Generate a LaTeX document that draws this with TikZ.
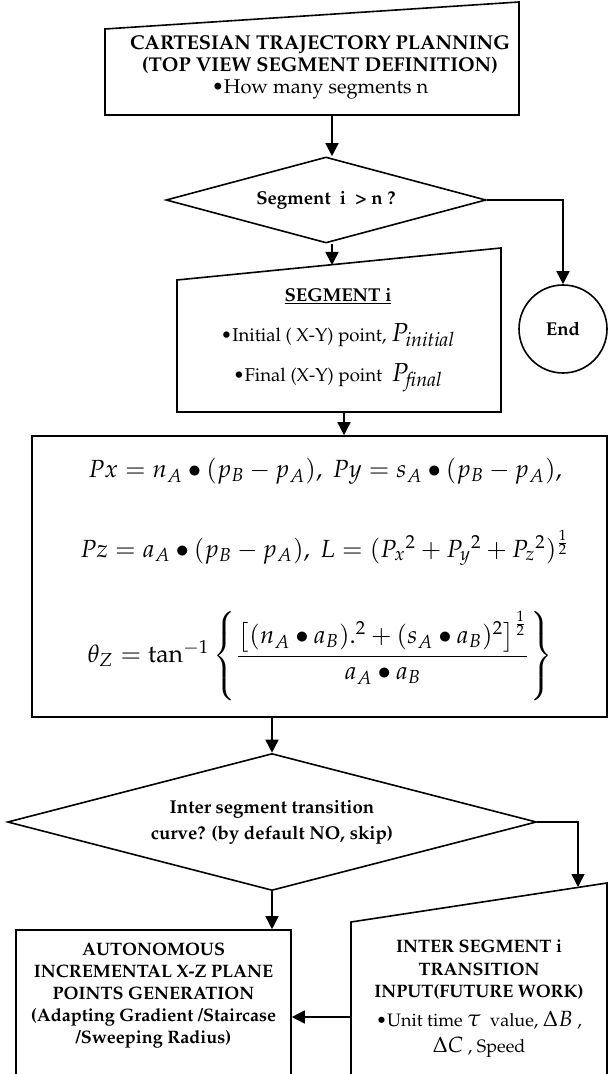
\documentclass[tikz,border=0pt]{standalone}
\usepackage{amsmath,amssymb}
\usepackage[T1]{fontenc}
\usepackage{mathpazo}
\usepackage{tikz}
\usetikzlibrary{positioning,arrows.meta,shapes.geometric}

\begin{document}
\begin{tikzpicture}[x=0.5pt,y=-0.5pt,>={Triangle[length=6.5pt,width=6.5pt]},line width=0.8pt,
  txt/.style={font=\fontsize{9.3}{11}\selectfont,align=center,inner sep=0pt},
  eqn/.style={font=\fontsize{12.4}{15}\selectfont,inner sep=0pt},
  decide/.style={draw,diamond,aspect=4,inner sep=0pt,align=center,font=\fontsize{9.3}{13}\selectfont\bfseries},
  frame/.style={draw,rectangle,inner sep=0pt},
  flow/.style={->,line width=0.8pt}]
\useasboundingbox (0,0) rectangle (608,1074);

% planning input
\draw (105,29) -- (519,2) -- (519,115) -- (105,115) -- cycle;
\node[txt,font=\fontsize{10}{11}\selectfont] (plan) at (320,67) {\textbf{CARTESIAN TRAJECTORY PLANNING}\\ \textbf{(TOP VIEW SEGMENT DEFINITION)}\\ \textbullet How many segments n};
\coordinate (plan-bot) at (332,115);

\node[decide,minimum width=160pt,minimum height=43pt] (seg-test) at (326,200) {Segment\ \ i\ \ \textgreater\ n ?};
\node[draw,circle,minimum size=44pt,inner sep=0pt,font=\fontsize{9.3}{11}\selectfont\bfseries] (end) at (563,329) {End};

% segment input
\draw (177,280) -- (501,248) -- (501,412) -- (177,412) -- cycle;
\coordinate (seg-top) at (332,265);
\coordinate (seg-bot) at (344,412);
\node[txt,font=\fontsize{9.3}{20}\selectfont] (seg) at (338,340) {\textbf{\underline{SEGMENT i}}\\
  \textbullet Initial ( X-Y) point, {\fontsize{13}{13}\selectfont$P_{\mathit{initial}}$}\\
  \textbullet Final (X-Y) point\ \ {\fontsize{13}{13}\selectfont$P_{\mathit{final}}$}};

% computation
\node[frame,minimum width=287.5pt,minimum height=140.5pt] (calc) at (319.5,576.5) {};
\node[eqn] (eq-p) at (325,471) {$Px = n_A \bullet (p_B - p_A),\ Py = s_A \bullet (p_B - p_A),$};
\node[eqn] (eq-l) at (325,548) {$Pz = a_A \bullet (p_B - p_A),\ L = (P_x{}^2 + P_y{}^2 + P_z{}^2)^{\frac{1}{2}}$};
\node[eqn] (eq-t) at (320,656) {$\theta_Z = \tan^{-1}\left\{\dfrac{\bigl[(n_A \bullet a_B).^2 + (s_A \bullet a_B)^2\bigr]^{\frac{1}{2}}}{a_A \bullet a_B}\right\}$};

\node[decide,minimum width=264.5pt,minimum height=68.5pt] (curve-test) at (272,822) {Inter segment transition\\ curve? (by default NO, skip)};

% transition input
\draw (351,922) -- (607,883) -- (607,1100) -- (351,1100) -- cycle;
\coordinate (trans-top) at (578,887);
\coordinate (trans-left) at (351,1017);
\node[txt,font=\fontsize{9}{11.2}\selectfont] (trans) at (479,999) {\textbf{INTER SEGMENT i}\\ \textbf{TRANSITION}\\ \textbf{INPUT(FUTURE WORK)}\\[3pt]
  \textbullet Unit time {\fontsize{12}{12}\selectfont$\tau$}\ \ value, {\fontsize{11}{11}\selectfont$\Delta B$} ,\\[2pt]
  {\fontsize{11}{11}\selectfont$\Delta C$} , Speed};

\node[frame,minimum width=137.5pt,minimum height=85pt] (auto) at (153.5,1015) {};
\node[txt,font=\fontsize{9}{11}\selectfont] (auto-txt) at (153.5,995) {\textbf{AUTONOMOUS}\\ \textbf{INCREMENTAL X-Z PLANE}\\ \textbf{POINTS GENERATION}\\
  \textbf{(Adapting Gradient /Staircase}\\ \textbf{/Sweeping Radius)}};

\draw[flow] (plan-bot) -- (plan-bot |- seg-test.north);
\draw[flow] (seg-test.east) -| (end.north);
\draw[flow] (seg-top |- seg-test.south) -- (seg-top);
\draw[flow] (seg-bot) -- (seg-bot |- calc.north);
\draw[flow] (curve-test.north |- calc.south) -- (curve-test.north);
\draw[flow] (curve-test.east) -| (trans-top);
\draw[flow] (curve-test.south) -- (curve-test.south |- auto.north);
\draw[flow] (trans-left) -- (trans-left -| auto.east);
\end{tikzpicture}
\end{document}
